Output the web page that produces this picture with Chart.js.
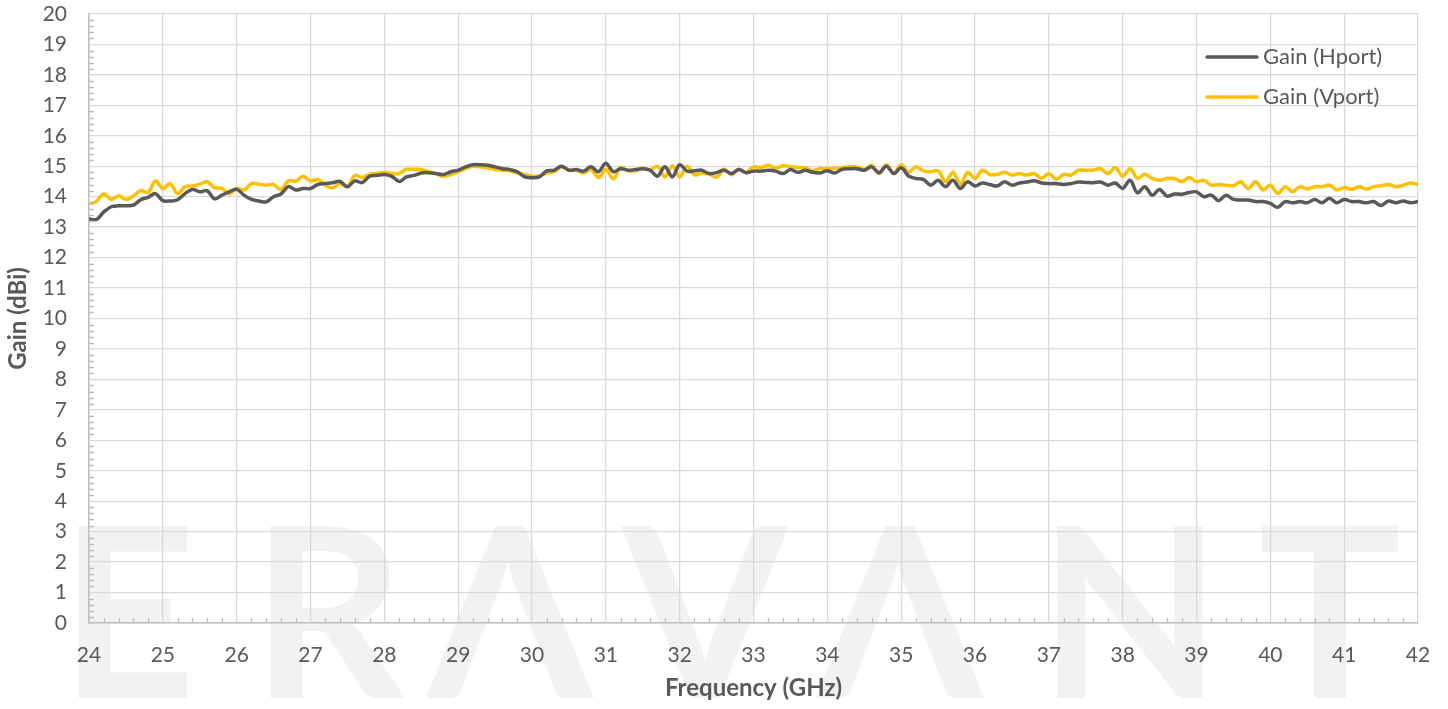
<!DOCTYPE html>
<html>
<head>
<meta charset="utf-8">
<script src="https://cdn.jsdelivr.net/npm/chart.js@4/dist/chart.umd.min.js"></script>
<style>
    html, body { margin: 0; padding: 0; background: #ffffff; }
    #wrap { width: 1448px; height: 709px; position: relative; }
</style>
</head>
<body>
<div id="wrap"><canvas id="gain-chart"></canvas></div>
<script>
'use strict';

// frequency points, GHz
const freqs = [
    24.0, 24.1, 24.2, 24.3, 24.4, 24.5, 24.6, 24.7, 24.8, 24.9,
    25.0, 25.1, 25.2, 25.3, 25.4, 25.5, 25.6, 25.7, 25.8, 25.9,
    26.0, 26.1, 26.2, 26.3, 26.4, 26.5, 26.6, 26.7, 26.8, 26.9,
    27.0, 27.1, 27.2, 27.3, 27.4, 27.5, 27.6, 27.7, 27.8, 27.9,
    28.0, 28.1, 28.2, 28.3, 28.4, 28.5, 28.6, 28.7, 28.8, 28.9,
    29.0, 29.1, 29.2, 29.3, 29.4, 29.5, 29.6, 29.7, 29.8, 29.9,
    30.0, 30.1, 30.2, 30.3, 30.4, 30.5, 30.6, 30.7, 30.8, 30.9,
    31.0, 31.1, 31.2, 31.3, 31.4, 31.5, 31.6, 31.7, 31.8, 31.9,
    32.0, 32.1, 32.2, 32.3, 32.4, 32.5, 32.6, 32.7, 32.8, 32.9,
    33.0, 33.1, 33.2, 33.3, 33.4, 33.5, 33.6, 33.7, 33.8, 33.9,
    34.0, 34.1, 34.2, 34.3, 34.4, 34.5, 34.6, 34.7, 34.8, 34.9,
    35.0, 35.1, 35.2, 35.3, 35.4, 35.5, 35.6, 35.7, 35.8, 35.9,
    36.0, 36.1, 36.2, 36.3, 36.4, 36.5, 36.6, 36.7, 36.8, 36.9,
    37.0, 37.1, 37.2, 37.3, 37.4, 37.5, 37.6, 37.7, 37.8, 37.9,
    38.0, 38.1, 38.2, 38.3, 38.4, 38.5, 38.6, 38.7, 38.8, 38.9,
    39.0, 39.1, 39.2, 39.3, 39.4, 39.5, 39.6, 39.7, 39.8, 39.9,
    40.0, 40.1, 40.2, 40.3, 40.4, 40.5, 40.6, 40.7, 40.8, 40.9,
    41.0, 41.1, 41.2, 41.3, 41.4, 41.5, 41.6, 41.7, 41.8, 41.9,
    42.0
];

// Gain (Hport), dBi
const gainH = [
    13.27, 13.25, 13.50, 13.67, 13.70, 13.70, 13.72, 13.90, 13.98, 14.10,
    13.87, 13.86, 13.90, 14.10, 14.24, 14.16, 14.20, 13.93, 14.05, 14.16,
    14.24, 14.05, 13.91, 13.86, 13.83, 14.00, 14.09, 14.33, 14.22, 14.27,
    14.27, 14.40, 14.43, 14.46, 14.50, 14.33, 14.52, 14.46, 14.67, 14.70,
    14.73, 14.67, 14.50, 14.65, 14.70, 14.78, 14.79, 14.76, 14.73, 14.82,
    14.87, 14.98, 15.05, 15.05, 15.03, 14.98, 14.92, 14.89, 14.82, 14.65,
    14.62, 14.65, 14.85, 14.87, 15.00, 14.87, 14.89, 14.84, 14.98, 14.82,
    15.10, 14.82, 14.92, 14.87, 14.89, 14.92, 14.87, 14.67, 14.98, 14.65,
    15.05, 14.84, 14.85, 14.87, 14.76, 14.79, 14.87, 14.76, 14.89, 14.79,
    14.84, 14.84, 14.87, 14.84, 14.76, 14.89, 14.80, 14.87, 14.80, 14.78,
    14.85, 14.78, 14.90, 14.92, 14.92, 14.87, 14.98, 14.79, 15.00, 14.76,
    14.95, 14.68, 14.60, 14.57, 14.38, 14.54, 14.33, 14.54, 14.27, 14.49,
    14.35, 14.45, 14.40, 14.35, 14.49, 14.38, 14.45, 14.48, 14.52, 14.45,
    14.43, 14.43, 14.40, 14.43, 14.48, 14.47, 14.46, 14.48, 14.38, 14.45,
    14.27, 14.54, 14.13, 14.33, 14.05, 14.24, 14.02, 14.09, 14.08, 14.14,
    14.16, 14.00, 14.05, 13.87, 14.05, 13.91, 13.89, 13.89, 13.84, 13.84,
    13.78, 13.65, 13.84, 13.80, 13.84, 13.80, 13.91, 13.80, 13.95, 13.80,
    13.91, 13.84, 13.84, 13.80, 13.84, 13.71, 13.86, 13.80, 13.86, 13.80,
    13.84
];

// Gain (Vport), dBi
const gainV = [
    13.76, 13.84, 14.10, 13.91, 14.03, 13.91, 14.02, 14.20, 14.14, 14.52,
    14.27, 14.43, 14.10, 14.33, 14.35, 14.41, 14.49, 14.30, 14.27, 14.09,
    14.27, 14.22, 14.43, 14.41, 14.38, 14.40, 14.24, 14.52, 14.51, 14.67,
    14.52, 14.57, 14.38, 14.29, 14.43, 14.33, 14.70, 14.63, 14.74, 14.76,
    14.80, 14.76, 14.76, 14.90, 14.90, 14.89, 14.82, 14.76, 14.67, 14.73,
    14.82, 14.92, 15.00, 14.98, 14.95, 14.89, 14.87, 14.85, 14.78, 14.73,
    14.67, 14.68, 14.78, 14.82, 14.98, 14.87, 14.87, 14.78, 14.89, 14.63,
    14.89, 14.58, 14.97, 14.85, 14.85, 14.94, 14.88, 15.00, 14.65, 15.02,
    14.65, 15.00, 14.72, 14.77, 14.75, 14.64, 14.90, 14.72, 14.90, 14.80,
    14.98, 14.96, 15.03, 14.94, 15.02, 14.98, 14.96, 14.95, 14.85, 14.93,
    14.93, 14.93, 14.96, 14.98, 14.98, 14.89, 15.03, 14.76, 15.05, 14.76,
    15.05, 14.81, 14.98, 14.85, 14.82, 14.85, 14.49, 14.80, 14.41, 14.80,
    14.60, 14.87, 14.73, 14.73, 14.80, 14.71, 14.76, 14.71, 14.76, 14.60,
    14.76, 14.57, 14.73, 14.71, 14.87, 14.87, 14.87, 14.92, 14.76, 14.96,
    14.67, 14.92, 14.60, 14.74, 14.60, 14.54, 14.60, 14.60, 14.49, 14.63,
    14.49, 14.54, 14.38, 14.40, 14.38, 14.36, 14.49, 14.27, 14.49, 14.22,
    14.38, 14.11, 14.33, 14.16, 14.33, 14.25, 14.33, 14.33, 14.38, 14.22,
    14.30, 14.24, 14.33, 14.25, 14.33, 14.36, 14.40, 14.33, 14.38, 14.45,
    14.40
];

const seriesLabels = ['Gain (Hport)', 'Gain (Vport)'];
const seriesColors = ['#595959', '#FFC000'];

const textColor = '#595959';
const fontFamily = 'Lato, "Open Sans", sans-serif';


function toPoints(xs, ys) {
    return xs.map((x, i) => ({ x: x, y: ys[i] }));
}

/** @description big faint logo text behind the plot */
const watermarkPlugin = {
    id: 'watermark',
    beforeDraw(chart) {
        const ctx = chart.ctx;
        // letter, centre x
        const letters = [['E', 128], ['R', 328], ['Λ', 510], ['V', 705], ['Λ', 900], ['N', 1130], ['T', 1330]];
        ctx.save();
        ctx.fillStyle = '#f2f2f2';
        ctx.font = 'bold 238px Lato, "Open Sans", sans-serif';
        ctx.textAlign = 'center';
        ctx.textBaseline = 'alphabetic';
        for (const [ch, cx] of letters)
            ctx.fillText(ch, cx, 698);
        ctx.restore();
    }
};

/** @description small inward minor ticks every 0.2 on both axes */
const minorTicksPlugin = {
    id: 'minorTicks',
    afterDraw(chart) {
        const ctx = chart.ctx;
        const xs = chart.scales.x;
        const ys = chart.scales.y;
        const area = chart.chartArea;
        ctx.save();
        ctx.strokeStyle = '#bfbfbf';
        ctx.lineWidth = 1.3;
        ctx.beginPath();
        for (let k = 120; k <= 210; k++) {
            if (k % 5 === 0) continue;
            const px = Math.round(xs.getPixelForValue(k / 5)) + 0.5;
            ctx.moveTo(px, area.bottom);
            ctx.lineTo(px, area.bottom - 5);
        }
        for (let k = 0; k <= 100; k++) {
            if (k % 5 === 0) continue;
            const py = Math.round(ys.getPixelForValue(k / 5)) + 0.5;
            ctx.moveTo(area.left, py);
            ctx.lineTo(area.left + 5, py);
        }
        ctx.stroke();
        ctx.restore();
    }
};

/** @description legend drawn inside the plot, top right */
const insideLegendPlugin = {
    id: 'insideLegend',
    afterDraw(chart) {
        const ctx = chart.ctx;
        ctx.save();
        ctx.font = '22px ' + fontFamily;
        ctx.textBaseline = 'middle';
        ctx.textAlign = 'left';
        chart.data.datasets.forEach((ds, i) => {
            const y = 57 + i * 40;
            ctx.strokeStyle = ds.borderColor;
            ctx.lineWidth = 3.5;
            ctx.lineCap = 'round';
            ctx.beginPath();
            ctx.moveTo(1207, y);
            ctx.lineTo(1257, y);
            ctx.stroke();
            ctx.fillStyle = textColor;
            ctx.fillText(ds.label, 1263, y);
        });
        ctx.restore();
    }
};


(function () {
    let ctx = document.getElementById('gain-chart').getContext('2d');

    let data = {
        datasets: [gainH, gainV].map((vals, i) => ({
            label: seriesLabels[i],
            data: toPoints(freqs, vals),
            borderColor: seriesColors[i],
            backgroundColor: seriesColors[i],
            borderWidth: 3.5,
            pointRadius: 0,
            tension: 0.35,
            fill: false
        }))
    };

    new Chart(ctx, {
        type: 'line',
        data: data,
        options: {
            responsive: true,
            maintainAspectRatio: false,
            animation: false,
            layout: { padding: { top: 14, right: 30, bottom: 0, left: 0 } },
            plugins: {
                legend: { display: false },
                tooltip: { enabled: false }
            },
            scales: {
                x: {
                    type: 'linear',
                    min: 24,
                    max: 42,
                    afterFit: (scale) => {
                        scale.height = 86;
                        scale.paddingLeft = 0;
                        scale.paddingRight = 0;
                    },
                    ticks: {
                        stepSize: 1,
                        color: textColor,
                        padding: 20,
                        maxRotation: 0,
                        font: { family: fontFamily, size: 21 }
                    },
                    grid: { color: '#d9d9d9', lineWidth: 1.3, drawTicks: false },
                    border: { color: '#bfbfbf', width: 1.5 },
                    title: {
                        display: true,
                        text: 'Frequency (GHz)',
                        color: textColor,
                        padding: { top: 0, bottom: 6 },
                        font: { family: fontFamily, size: 24, weight: 'bold' }
                    }
                },
                y: {
                    min: 0,
                    max: 20,
                    afterFit: (scale) => {
                        scale.width = 89;
                        scale.paddingTop = 0;
                        scale.paddingBottom = 0;
                    },
                    ticks: {
                        stepSize: 1,
                        color: textColor,
                        padding: 22,
                        font: { family: fontFamily, size: 21 }
                    },
                    grid: { color: '#d9d9d9', lineWidth: 1.3, drawTicks: false },
                    border: { color: '#bfbfbf', width: 1.5 },
                    title: {
                        display: true,
                        text: 'Gain (dBi)',
                        color: textColor,
                        padding: { top: 4, bottom: 0 },
                        font: { family: fontFamily, size: 24, weight: 'bold' }
                    }
                }
            }
        },
        plugins: [watermarkPlugin, minorTicksPlugin, insideLegendPlugin]
    });
})();
</script>
</body>
</html>
